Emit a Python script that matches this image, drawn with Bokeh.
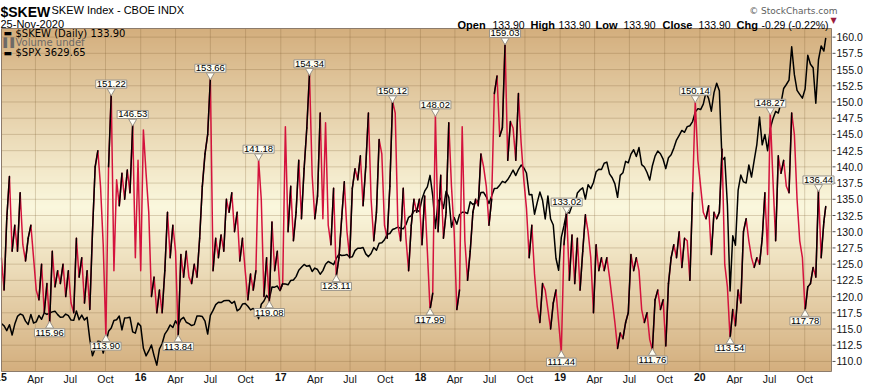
import numpy as np
import pandas as pd
from bokeh.plotting import figure
from bokeh.models import Range1d, Label
from bokeh.core.properties import value
from bokeh.embed import file_html
from bokeh.resources import INLINE

# ---------------- data (weekly readings, first Friday of each year) ----------------
week_starts = ["2015-01-02", "2016-01-01", "2017-01-06", "2018-01-05", "2019-01-04", "2020-01-03"]

skew_2015 = [126, 121, 132, 138.5, 127, 131, 127, 136, 128, 125.5,
             129, 131, 126, 121, 119.5, 125, 117.5, 122, 115.96, 127,
             121.5, 124, 122, 125, 120, 124, 119, 117.5, 129, 123,
             126, 119, 124, 118, 130, 140, 142.5, 137, 128, 113.90,
             140, 151.22, 124, 138, 134, 139, 135, 139.5, 136, 146.53,
             126, 141]
skew_2016 = [124, 145.7, 139, 133, 120, 123, 117.5, 121, 117.5, 124,
             133, 126, 131, 127, 113.84, 126.5, 123, 127, 123, 122,
             125, 123, 129, 137, 142, 145, 153.66, 124, 129, 126,
             129.5, 127, 135, 133, 136, 130, 133, 125.5, 129, 124,
             119.5, 123.5, 121, 124, 141.18, 135, 120, 126, 119.08, 131.5,
             124, 127, 121]
skew_2017 = [122, 146.2, 130, 137, 128.6, 133, 141, 132, 139.7, 146,
             154.34, 138.7, 132, 135.5, 148.3, 132, 146.8, 131, 128, 136.7,
             123.11, 126, 132, 137.7, 130, 126, 136.7, 139.7, 138, 141.7,
             134, 140, 148.3, 135, 128.6, 133, 144.2, 142, 131, 129,
             137, 150.12, 148.3, 131, 128.6, 136.7, 129, 124, 131, 135,
             133, 135]
skew_2018 = [128, 135.5, 127, 117.99, 120.5, 148.02, 130, 138.7, 129, 133,
             146.8, 137, 130, 118, 121, 146.2, 128.6, 122.5, 127, 133,
             135, 134, 142, 140, 137, 131, 135, 151.3, 154, 144.7,
             146, 159.03, 141, 147, 146, 141, 151.3, 143.7, 138, 133.6,
             126, 131, 123.5, 118.5, 116, 122, 121, 118, 115, 119,
             121, 116]
skew_2019 = [111.44, 128, 133.02, 122.5, 129.5, 122, 129, 121, 127, 132.6,
             130, 126, 117.5, 128, 124, 126, 124, 126, 123, 119.5,
             116, 112, 114.4, 113.5, 116, 117.5, 126.5, 124, 126, 124,
             118, 116, 117.5, 113.4, 111.76, 119.5, 121, 118, 119.5, 112.4,
             122, 126, 128, 126, 130, 124.5, 129, 128.6, 122.5, 136,
             150.14, 141]
skew_2020 = [137, 133, 132, 134, 126.5, 133, 132, 133, 142.7, 125,
             121.5, 113.54, 118, 115.5, 121, 119, 130, 132, 128.6, 126,
             124.5, 126, 125, 129, 136, 126.5, 148.27, 138, 128.6, 141.7,
             139, 141, 137, 136, 148.3, 145, 135, 128.6, 126, 117.78,
             121.5, 122, 124.5, 123, 136.44, 126, 131.5]

spx_2015 = [2058, 2045, 2019, 2051, 1995, 2055, 2097, 2110, 2104, 2071,
            2053, 2108, 2061, 2067, 2102, 2081, 2117, 2108, 2116, 2122,
            2126, 2107, 2092, 2094, 2110, 2101, 2077, 2076, 2127, 2079,
            2104, 2077, 2092, 1971, 1880, 1921, 1961, 1958, 1895, 1951,
            2015, 2033, 2075, 2079, 2099, 2023, 2089, 2090, 2092, 2012,
            2005, 2061]
spx_2016 = [2044, 1922, 1880, 1907, 1940, 1880, 1829, 1918, 1948, 2000,
            2022, 2050, 2036, 2073, 2048, 2081, 2092, 2065, 2057, 2047,
            2052, 2099, 2099, 2096, 2071, 2000, 2103, 2130, 2162, 2175,
            2173, 2183, 2184, 2184, 2169, 2180, 2128, 2139, 2165, 2168,
            2153, 2133, 2141, 2126, 2085, 2164, 2182, 2213, 2192, 2259,
            2258, 2264, 2239]
spx_2017 = [2277, 2275, 2271, 2295, 2297, 2316, 2351, 2367, 2383, 2373,
            2378, 2344, 2363, 2355, 2329, 2349, 2384, 2399, 2391, 2382,
            2416, 2439, 2432, 2433, 2438, 2423, 2425, 2459, 2472, 2472,
            2476, 2441, 2426, 2443, 2476, 2461, 2500, 2502, 2519, 2549,
            2553, 2575, 2581, 2588, 2582, 2579, 2602, 2642, 2652, 2676,
            2683, 2674]
spx_2018 = [2743, 2786, 2810, 2873, 2762, 2581, 2732, 2747, 2691, 2786,
            2752, 2588, 2641, 2604, 2656, 2670, 2670, 2663, 2728, 2713,
            2721, 2735, 2779, 2780, 2755, 2718, 2760, 2801, 2802, 2819,
            2840, 2833, 2850, 2875, 2902, 2872, 2905, 2930, 2914, 2886,
            2767, 2768, 2659, 2723, 2781, 2736, 2633, 2760, 2633, 2600,
            2417, 2351]
spx_2019 = [2532, 2596, 2671, 2665, 2707, 2708, 2776, 2793, 2804, 2743,
            2822, 2800, 2834, 2893, 2907, 2905, 2940, 2946, 2881, 2860,
            2826, 2752, 2873, 2887, 2950, 2942, 2990, 3014, 2977, 3026,
            2932, 2919, 2889, 2847, 2926, 2979, 3007, 2992, 2962, 2910,
            2970, 2986, 3023, 3067, 3093, 3120, 3110, 3141, 3146, 3169,
            3221, 3240]
spx_2020 = [3235, 3265, 3330, 3295, 3226, 3328, 3380, 3338, 2954, 2972,
            2711, 2237, 2541, 2489, 2790, 2875, 2837, 2831, 2930, 2864,
            2955, 3044, 3194, 3041, 3098, 3009, 3130, 3185, 3225, 3216,
            3271, 3351, 3373, 3397, 3580, 3427, 3341, 3319, 3298, 3348,
            3534, 3484, 3465, 3270, 3509, 3585, 3557]

last_date = "2020-11-25"
skew_last = 133.90
spx_last = 3629.65

hi_labels = [151.22, 146.53, 153.66, 141.18, 154.34, 150.12, 148.02, 159.03,
             133.02, 150.14, 148.27, 136.44]
lo_labels = [115.96, 113.90, 113.84, 119.08, 123.11, 117.99, 111.44, 111.76,
             113.54, 117.78]

skew_ticks = [110.0, 112.5, 115.0, 117.5, 120.0, 122.5, 125.0, 127.5, 130.0, 132.5,
              135.0, 137.5, 140.0, 142.5, 145.0, 147.5, 150.0, 152.5, 155.0, 157.5, 160.0]

xtick_dates = ["2015-01-01", "2015-04-01", "2015-07-01", "2015-10-01",
               "2016-01-01", "2016-04-01", "2016-07-01", "2016-10-01",
               "2017-01-01", "2017-04-01", "2017-07-01", "2017-10-01",
               "2018-01-01", "2018-04-01", "2018-07-01", "2018-10-01",
               "2019-01-01", "2019-04-01", "2019-07-01", "2019-10-01",
               "2020-01-01", "2020-04-01", "2020-07-01", "2020-10-01"]
xtick_labels = ["15", "Apr", "Jul", "Oct",
                "16", "Apr", "Jul", "Oct",
                "17", "Apr", "Jul", "Oct",
                "18", "Apr", "Jul", "Oct",
                "19", "Apr", "Jul", "Oct",
                "20", "Apr", "Jul", "Oct"]

header_symbol = "$SKEW"
header_name = "SKEW Index - CBOE INDX"
header_date = "25-Nov-2020"
copyright_text = "\u00a9 StockCharts.com"
info_parts = [("Open", True), ("133.90", False), ("High", True), ("133.90", False),
              ("Low", True), ("133.90", False), ("Close", True), ("133.90", False),
              ("Chg", True), ("-0.29 (-0.22%)", False)]
legend_rows = ["$SKEW (Daily) 133.90", "Volume undef", "$SPX 3629.65"]

# ---------------- helpers ----------------
EPOCH = pd.Timestamp("1970-01-01")


def ms(d):
    return float((pd.Timestamp(d) - EPOCH) / pd.Timedelta(milliseconds=1))


def build(years):
    xs, ys = [], []
    for start, vals in zip(week_starts, years):
        for d, v in zip(pd.date_range(start, periods=len(vals), freq="7D"), vals):
            xs.append(ms(d))
            ys.append(v)
    return xs, ys


skx, sky = build([skew_2015, skew_2016, skew_2017, skew_2018, skew_2019, skew_2020])
skx.append(ms(last_date)); sky.append(skew_last)
spxx, spxy = build([spx_2015, spx_2016, spx_2017, spx_2018, spx_2019, spx_2020])
spxx.append(ms(last_date)); spxy.append(spx_last)
skx = np.array(skx); sky = np.array(sky)

# ---------------- layout (pixels inside the 863x384 canvas) ----------------
W, H = 863, 384
L, R, T, B = 1, 831, 28, 371          # plot area edges
X0, X1 = ms("2015-01-02 06:00"), ms("2020-12-10")
Y0, Y1 = 108.45, 161.33
SPX0, SPX1 = 1794.0, 3681.0
xpp = (X1 - X0) / (R - L)
ypp = (Y1 - Y0) / (B - T)
spp = (SPX1 - SPX0) / (B - T)


def px2x(px):
    return X0 + (px - L) * xpp


def py2y(py):
    return Y1 - (py - T) * ypp


def sy(py):     # canvas y (from top) -> label screen y (from bottom)
    return H - py


def iy(r):      # plot area: reference y -> label screen y
    return H - (T + (r - 28.5) * (B - T) / 349.0)


p = figure(width=W, height=H, output_backend="svg", toolbar_location=None,
           x_range=Range1d(X0 - L * xpp, X0 + (W - L) * xpp),
           y_range=Range1d(Y0 - (H - B) * ypp, Y1 + T * ypp),
           x_axis_location=None, y_axis_location=None,
           min_border=0, min_border_left=0, min_border_right=0,
           min_border_top=0, min_border_bottom=0)
p.extra_y_ranges = {"spx": Range1d(SPX0 - (H - B) * spp, SPX1 + T * spp)}
p.grid.visible = False
p.outline_line_color = None
p.background_fill_color = "white"
p.border_fill_color = "white"

# background gradient of the plot area
N = 400
t = np.linspace(0.0, 1.0, N)  # bottom -> top
c = 0.48
d = np.where(t > c, (t - c) / (1 - c), (c - t) / c)
edge = np.array([212, 175, 126], dtype=float)
mid = np.array([251, 248, 222], dtype=float)
cols = mid[None, :] + (edge - mid)[None, :] * d[:, None]
img = np.empty((N, 1), dtype=np.uint32)
view = img.view(dtype=np.uint8).reshape((N, 1, 4))
view[:, 0, 0] = cols[:, 0].astype(np.uint8)
view[:, 0, 1] = cols[:, 1].astype(np.uint8)
view[:, 0, 2] = cols[:, 2].astype(np.uint8)
view[:, 0, 3] = 255
p.image_rgba(image=[img], x=X0, y=Y0, dw=X1 - X0, dh=Y1 - Y0, level="image")

# grid lines
GRID = "#7a5a30"
xt = [ms(dd) for dd in xtick_dates]
xt_in = [v for v in xt if X0 <= v <= X1]
p.segment(x0=xt_in, x1=xt_in, y0=[Y0] * len(xt_in), y1=[Y1] * len(xt_in),
          line_color=GRID, line_alpha=0.25, line_width=1)
p.segment(x0=[X0] * len(skew_ticks), x1=[X1] * len(skew_ticks), y0=skew_ticks, y1=skew_ticks,
          line_color=GRID, line_alpha=0.25, line_width=1)

# SPX overlay
p.line(spxx, spxy, y_range_name="spx", line_color="black", line_width=1.5, line_join="round")

# SKEW line: red, moderate up-moves in black
p.line(skx, sky, line_color="#d4123d", line_width=1.5, line_join="round")
rise = sky[1:] - sky[:-1]
blk = (rise > 0) & (rise < 14)
p.segment(x0=skx[:-1][blk], y0=sky[:-1][blk], x1=skx[1:][blk], y1=sky[1:][blk],
          line_color="black", line_width=1.5, line_cap="round")

# frame outline
p.quad(left=X0, right=X1, bottom=Y0, top=Y1, fill_color=None, line_color="#8c7b6b", line_width=1)

# right axis: ticks and labels
p.segment(x0=[px2x(R + 1)] * len(skew_ticks), x1=[px2x(R + 4)] * len(skew_ticks),
          y0=skew_ticks, y1=skew_ticks, line_color="#555555", line_width=1)
p.text(x=[px2x(R + 5)] * len(skew_ticks), y=skew_ticks, text=[f"{v:.1f}" for v in skew_ticks],
       text_baseline="middle", text_align="left", text_font=value("Liberation Sans"),
       text_font_size="10.5px", text_color="#111111")

# bottom axis labels (years bold)
mx = [x for x, lab in zip(xt, xtick_labels) if not lab.isdigit()]
ml = [lab for lab in xtick_labels if not lab.isdigit()]
yx = [x for x, lab in zip(xt, xtick_labels) if lab.isdigit()]
yl = [lab for lab in xtick_labels if lab.isdigit()]
p.text(x=mx, y=[py2y(B + 1)] * len(mx), text=ml, text_align="center", text_baseline="top",
       text_font=value("Liberation Sans"), text_font_size="10.5px", text_color="#111111")
p.text(x=yx, y=[py2y(B + 1)] * len(yx), text=yl, text_align="center", text_baseline="top",
       text_font=value("Liberation Sans"), text_font_size="10.5px", text_font_style="bold",
       text_color="#111111")

# peak / trough labels
BOX_FILL = "#fffef4"
BOX_LINE = "#9a948a"
hx = [skx[int(np.argmin(np.abs(sky - v)))] for v in hi_labels]
lx = [skx[int(np.argmin(np.abs(sky - v)))] for v in lo_labels]
p.scatter(hx, [v + 3.0 * ypp for v in hi_labels], marker="inverted_triangle", size=8,
          fill_color=BOX_FILL, line_color=BOX_LINE, line_width=1)
p.scatter(lx, [v - 3.0 * ypp for v in lo_labels], marker="triangle", size=8,
          fill_color=BOX_FILL, line_color=BOX_LINE, line_width=1)
for xv, v in zip(hx, hi_labels):
    p.add_layout(Label(x=xv, y=v, y_offset=6, text=f"{v:.2f}", text_align="center",
                       text_baseline="bottom", text_font="Liberation Sans", text_font_size="9.5px",
                       text_color="black", background_fill_color=BOX_FILL,
                       border_line_color=BOX_LINE, padding=1))
for xv, v in zip(lx, lo_labels):
    p.add_layout(Label(x=xv, y=v, y_offset=-6, text=f"{v:.2f}", text_align="center",
                       text_baseline="top", text_font="Liberation Sans", text_font_size="9.5px",
                       text_color="black", background_fill_color=BOX_FILL,
                       border_line_color=BOX_LINE, padding=1))

# legend (inside plot area, top-left)
leg_style = [("\u25ac", "black", 33.5), ("\u258c\u258c", "#6e6a66", 43.0), ("\u25ac", "black", 53.0)]
for (icon, col, ry), txt in zip(leg_style, legend_rows):
    p.add_layout(Label(x=3, y=iy(ry), x_units="screen", y_units="screen", text=icon,
                       text_baseline="middle", text_font="DejaVu Sans", text_font_size="9px",
                       text_color=col))
    p.add_layout(Label(x=15, y=iy(ry), x_units="screen", y_units="screen", text=txt,
                       text_baseline="middle", text_font="DejaVu Sans", text_font_size="10px",
                       text_color=col))

# header (canvas coordinates)
p.add_layout(Label(x=0, y=sy(11.5), x_units="screen", y_units="screen", text=header_symbol,
                   text_font="Liberation Sans", text_font_size="14px", text_font_style="bold",
                   text_color="black", text_baseline="alphabetic"))
p.add_layout(Label(x=51, y=sy(9), x_units="screen", y_units="screen",
                   text=header_name, text_font="Liberation Sans",
                   text_font_size="11px", text_color="black", text_baseline="alphabetic"))
p.add_layout(Label(x=0, y=sy(23.5), x_units="screen", y_units="screen", text=header_date,
                   text_font="Liberation Sans", text_font_size="11px", text_color="black",
                   text_baseline="alphabetic"))
p.add_layout(Label(x=837, y=sy(10), x_units="screen", y_units="screen",
                   text=copyright_text, text_align="right", text_font="DejaVu Sans",
                   text_font_size="9px", text_color="#606060", text_baseline="alphabetic"))
info_x = [457, 492, 530, 558, 595, 623, 662, 698, 736, 761]
for (txt, bold), rx in zip(info_parts, info_x):
    p.add_layout(Label(x=rx, y=sy(24), x_units="screen", y_units="screen", text=txt,
                       text_font="Liberation Sans", text_font_size="11px" if bold else "10.5px",
                       text_font_style="bold" if bold else "normal", text_color="black",
                       text_baseline="alphabetic"))
p.add_layout(Label(x=833, y=sy(20), x_units="screen", y_units="screen", text="\u25bc",
                   text_align="center", text_baseline="middle", text_font="DejaVu Sans",
                   text_font_size="8px", text_color="#9b1b3b"))

open("out.html", "w").write(file_html(p, INLINE))
